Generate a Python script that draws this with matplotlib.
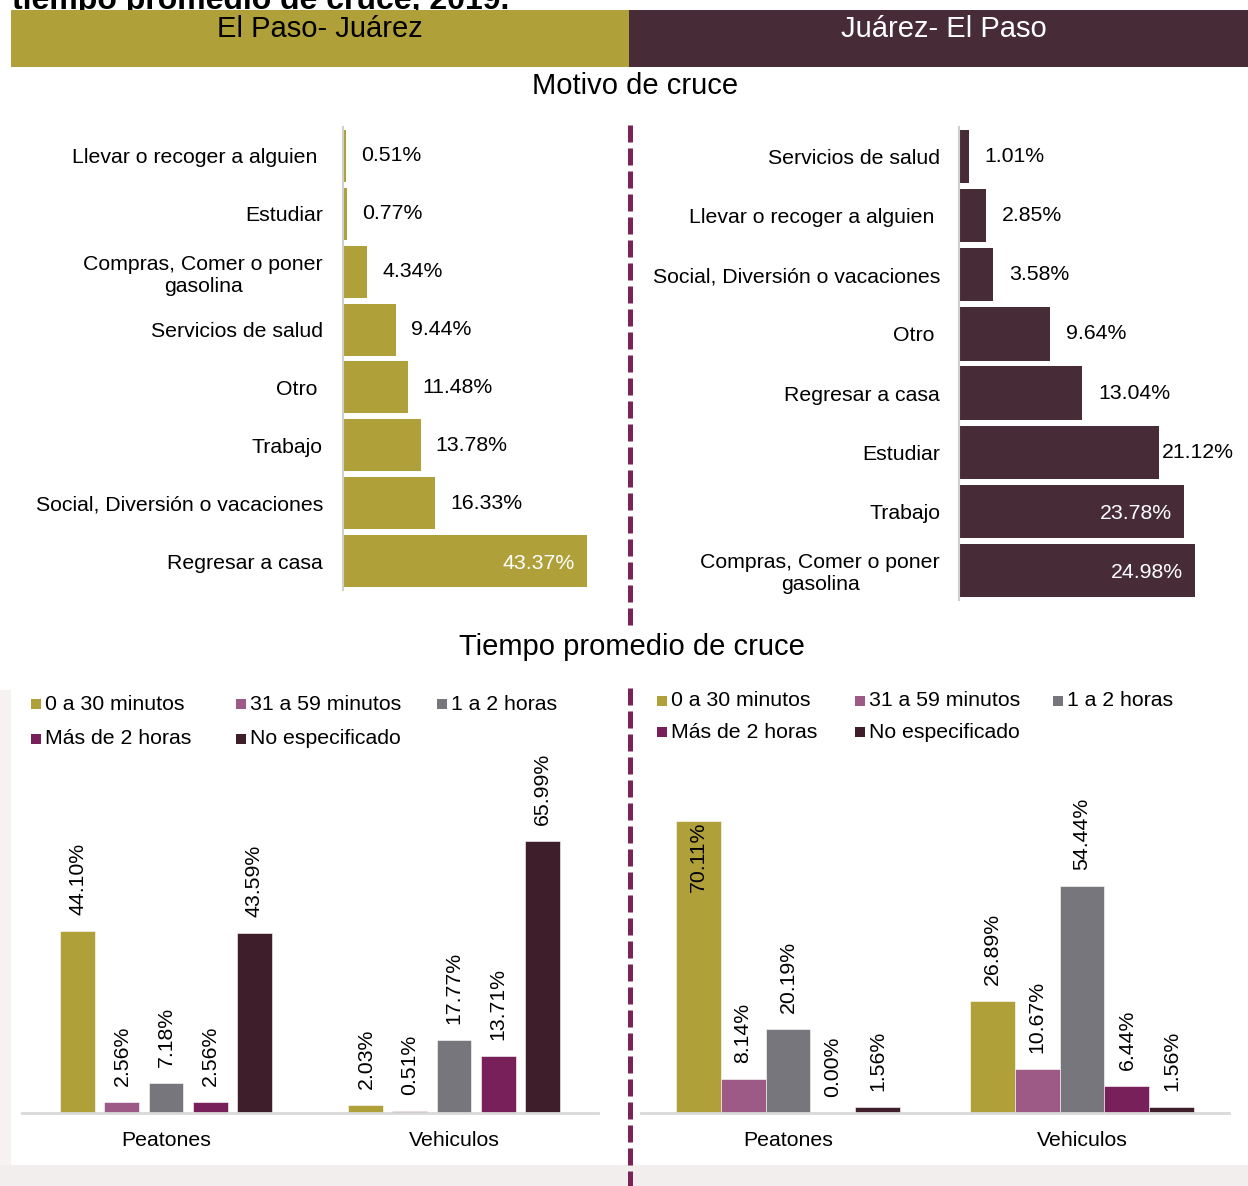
import matplotlib
matplotlib.use("Agg")
import matplotlib.pyplot as plt
from matplotlib.patches import Rectangle
from matplotlib.lines import Line2D
import numpy as np

plt.rcParams['font.family'] = ['Liberation Sans', 'DejaVu Sans']

# ---------------- data ----------------
ep_motivo_labels = ["Llevar o recoger a alguien ", "Estudiar", "Compras, Comer o poner\ngasolina",
                    "Servicios de salud", "Otro ", "Trabajo", "Social, Diversión o vacaciones",
                    "Regresar a casa"]
ep_motivo_values = [0.51, 0.77, 4.34, 9.44, 11.48, 13.78, 16.33, 43.37]

je_motivo_labels = ["Servicios de salud", "Llevar o recoger a alguien ", "Social, Diversión o vacaciones",
                    "Otro ", "Regresar a casa", "Estudiar", "Trabajo", "Compras, Comer o poner\ngasolina"]
je_motivo_values = [1.01, 2.85, 3.58, 9.64, 13.04, 21.12, 23.78, 24.98]

tiempo_series = ["0 a 30 minutos", "31 a 59 minutos", "1 a 2 horas", "Más de 2 horas", "No especificado"]
tiempo_groups = ["Peatones", "Vehiculos"]
ep_peatones = [44.10, 2.56, 7.18, 2.56, 43.59]
ep_vehiculos = [2.03, 0.51, 17.77, 13.71, 65.99]
je_peatones = [70.11, 8.14, 20.19, 0.00, 1.56]
je_vehiculos = [26.89, 10.67, 54.44, 6.44, 1.56]

OLIVE = "#B0A03A"
DARK = "#472B37"
series_colors = ["#B0A03A", "#9E5A87", "#77767C", "#78205A", "#3D1E2A"]
DASH = "#7B2257"

W, H = 1248, 1186
fig = plt.figure(figsize=(W / 100, H / 100), dpi=100)
fig.patch.set_facecolor("white")

def fx(x):
    return x / W

def fy(y):
    return 1 - y / H

def add_rect(x0, y0, x1, y1, color, z=0.5):
    fig.add_artist(Rectangle((fx(x0), fy(y1)), fx(x1) - fx(x0), fy(y0) - fy(y1),
                             transform=fig.transFigure, facecolor=color, edgecolor="none",
                             zorder=z))

def axes_px(x0, y0, x1, y1):
    ax = fig.add_axes([fx(x0), fy(y1), fx(x1) - fx(x0), fy(y0) - fy(y1)])
    ax.set_zorder(2)
    return ax

FS = 15.3
TFS = 21

# faint background outside the lower panels
add_rect(0, 1165, W, H, "#F1EEED", z=0.1)
add_rect(0, 690, 11, 1165, "#F5F2F1", z=0.1)

# cut-off title at the very top
fig.text(fx(12), fy(9), "tiempo promedio de cruce, 2019.", fontsize=23, fontweight="bold",
         ha="left", va="baseline", color="black", zorder=0.3)

# headers
add_rect(11, 10, 629, 67, OLIVE, z=1)
add_rect(629, 10, W, 67, DARK, z=1)
fig.text(fx(320), fy(29), "El Paso- Juárez", fontsize=TFS, ha="center", va="center",
         color="black", zorder=2)
fig.text(fx(944), fy(29), "Juárez- El Paso", fontsize=TFS, ha="center", va="center",
         color="white", zorder=2)

fig.text(fx(635), fy(86), "Motivo de cruce", fontsize=TFS, ha="center", va="center")
fig.text(fx(632), fy(647), "Tiempo promedio de cruce", fontsize=TFS, ha="center", va="center")

# dashed separator
for (ya, yb) in [(125, 627), (688, 1186)]:
    fig.add_artist(Line2D([fx(630), fx(630)], [fy(ya), fy(yb)], transform=fig.transFigure,
                          color=DASH, linewidth=3.6, dashes=(3.4, 1.2),
                          solid_capstyle="butt", dash_capstyle="butt", zorder=3))

PX = 0.72  # points per pixel

def motivo_panel(x0, y0, y1, xmax, px_per_unit, labels, values, color, pad_px, off_px,
                 inside_thresh, inside_inset, near_thresh):
    ax = axes_px(x0, y0, x0 + xmax * px_per_unit, y1)
    ax.patch.set_alpha(0)
    n = len(values)
    pos = np.arange(n)
    ax.barh(pos, values, height=0.9, color=color, edgecolor="none")
    ax.set_ylim(n - 0.5, -0.5)
    ax.set_xlim(0, xmax)
    ax.set_yticks(pos)
    ax.set_yticklabels(labels, fontsize=FS)
    for lbl in ax.get_yticklabels():
        lbl.set_multialignment("center")
    ax.tick_params(axis="y", length=0, pad=pad_px * PX)
    ax.set_xticks([])
    for s in ["top", "right", "bottom"]:
        ax.spines[s].set_visible(False)
    ax.spines["left"].set_color("#D0D0D0")
    ax.spines["left"].set_linewidth(1.5)
    for p, v in zip(pos, values):
        txt = f"{v:.2f}%"
        if v >= inside_thresh:
            ax.annotate(txt, (v, p), xytext=(-inside_inset * PX, -2 * PX), textcoords="offset points",
                        ha="right", va="center", fontsize=FS, color="white")
        elif v >= near_thresh:
            ax.annotate(txt, (v, p), xytext=(3 * PX, 0), textcoords="offset points",
                        ha="left", va="center", fontsize=FS, color="black")
        else:
            ax.annotate(txt, (v, p), xytext=(off_px * PX, 0), textcoords="offset points",
                        ha="left", va="center", fontsize=FS, color="black")
    return ax

motivo_panel(343, 127, 590, 48, 5.63, ep_motivo_labels, ep_motivo_values, OLIVE,
             20, 15, 30, 12, 100)
motivo_panel(959, 127, 600, 28, 9.45, je_motivo_labels, je_motivo_values, DARK,
             19, 16, 23, 12, 20)

def tiempo_panel(x0, x1, ybase, ytop, px_per_unit, group_vals, width, pitch):
    ax = axes_px(x0, ytop, x1, ybase)
    ax.patch.set_alpha(0)
    ymax = (ybase - ytop) / px_per_unit
    ax.set_ylim(0, ymax)
    ax.set_xlim(-0.5, 1.5)
    gpos = np.arange(len(tiempo_groups))
    for i, name in enumerate(tiempo_series):
        vals = [g[i] for g in group_vals]
        xs = gpos + (i - 2) * pitch
        ax.bar(xs, vals, width=width, color=series_colors[i], edgecolor="white",
               linewidth=0.4)
        for xv, v in zip(xs, vals):
            txt = f"{v:.2f}%"
            top_needed = v + (16 + 72) / px_per_unit
            if top_needed > ymax:
                ax.annotate(txt, (xv, v), xytext=(0, -1 * PX), textcoords="offset points",
                            ha="center", va="top", rotation=90, fontsize=FS, color="black")
            else:
                ax.annotate(txt, (xv, v), xytext=(0, 16 * PX), textcoords="offset points",
                            ha="center", va="bottom", rotation=90, fontsize=FS, color="black")
    ax.set_xticks(gpos)
    ax.set_xticklabels(tiempo_groups, fontsize=FS)
    ax.tick_params(axis="x", length=0, pad=13)
    ax.set_yticks([])
    for s in ["top", "right", "left"]:
        ax.spines[s].set_visible(False)
    ax.spines["bottom"].set_color("#D9D9D9")
    ax.spines["bottom"].set_linewidth(2)
    return ax

tiempo_panel(22, 598, 1113, 745, 4.127, [ep_peatones, ep_vehiculos], 0.1215, 0.1528)
tiempo_panel(641, 1229, 1113, 745, 4.165, [je_peatones, je_vehiculos], 0.153, 0.153)

def legend_px(xs_marker, ys_row):
    order = [(0, 0, 0), (1, 1, 0), (2, 2, 0), (3, 0, 1), (4, 1, 1)]
    for idx, col, row in order:
        mx = xs_marker[col]
        my = ys_row[row]
        add_rect(mx, my - 5, mx + 10, my + 5, series_colors[idx], z=2)
        fig.text(fx(mx + 14), fy(my), tiempo_series[idx], fontsize=FS, ha="left",
                 va="center", zorder=2)

legend_px([31, 236, 437], [704, 739])
legend_px([657, 855, 1053], [701, 732])

fig.savefig("out.png", dpi=100)
